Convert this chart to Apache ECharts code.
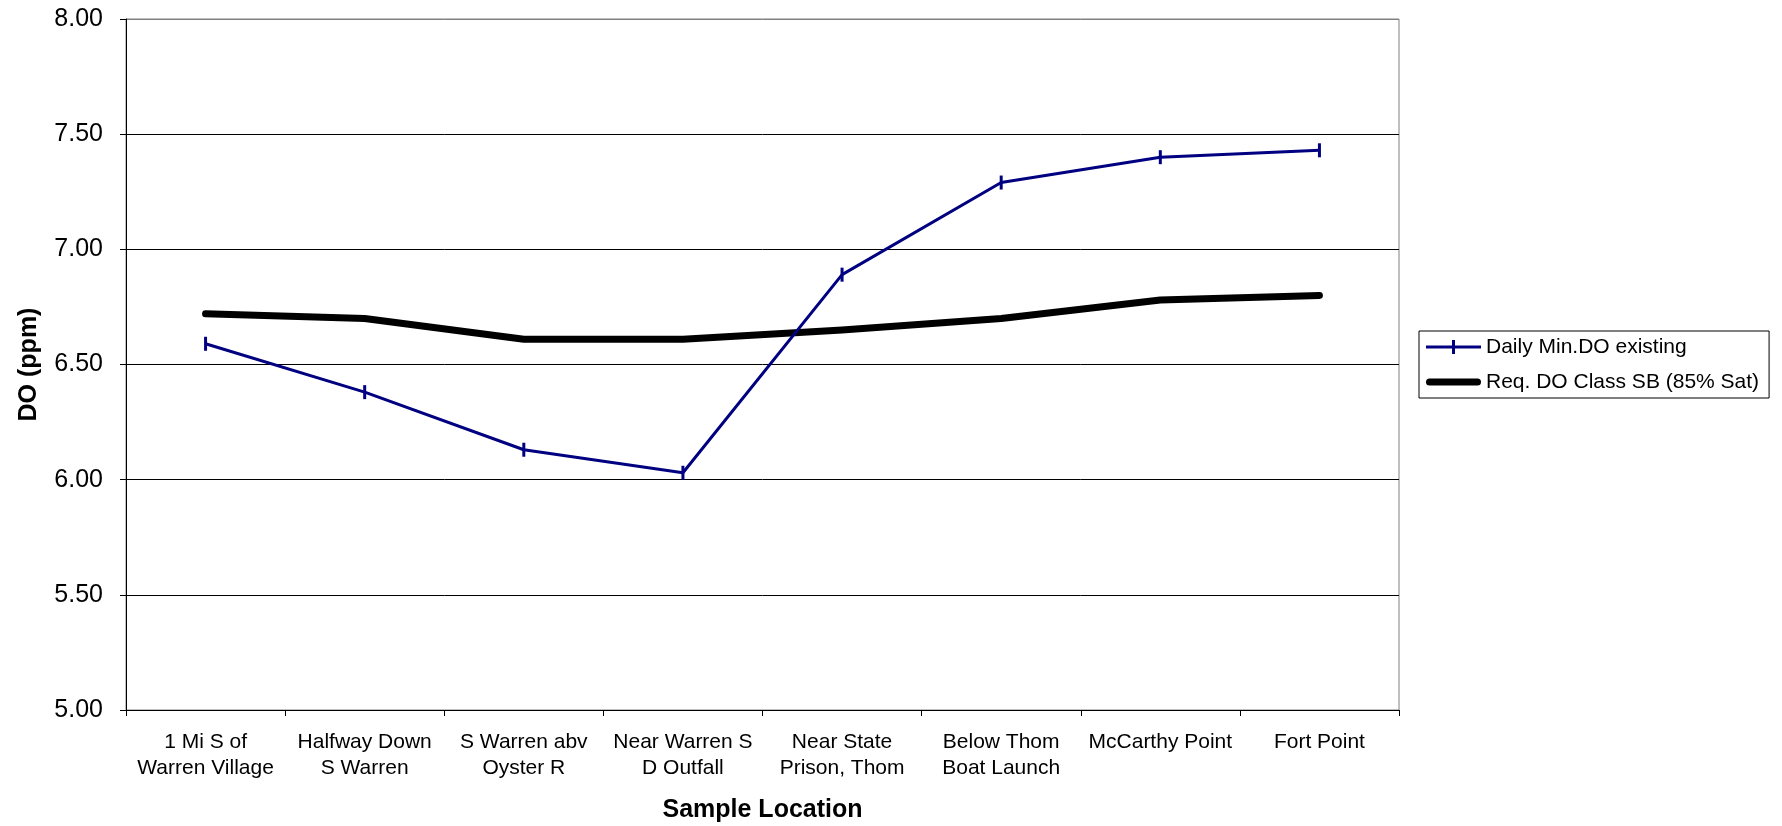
<!DOCTYPE html>
<html>
<head>
<meta charset="utf-8">
<script src="https://cdn.jsdelivr.net/npm/echarts@6/dist/echarts.min.js"></script>
<style>
  html, body { margin: 0; padding: 0; background: #fff; }
  #chart { width: 1782px; height: 826px; }
</style>
</head>
<body>
<div id="chart"></div>
<script>
// Sample locations along the river, upstream to downstream
const categories = [
  '1 Mi S of\nWarren Village',
  'Halfway Down\nS Warren',
  'S Warren abv\nOyster R',
  'Near Warren S\nD Outfall',
  'Near State\nPrison, Thom',
  'Below Thom\nBoat Launch',
  'McCarthy Point',
  'Fort Point'
];

// Dissolved oxygen, ppm
const dailyMinDO = [6.59, 6.38, 6.13, 6.03, 6.89, 7.29, 7.40, 7.43];
const requiredDO = [6.72, 6.70, 6.61, 6.61, 6.65, 6.70, 6.78, 6.80];

const seriesNames = ['Daily Min.DO existing', 'Req. DO Class SB (85% Sat)'];

// Y axis range and step
const yMin = 5;
const yMax = 8;
const yStep = 0.5;

const FONT = '"Liberation Sans", Arial, sans-serif';

// Legend keys: a thin line crossed by a tick, and a thick round-capped bar
const ICON_TICK_LINE = 'path://M0,5.5H55V8.5H0Z M26,0H29V14H26Z';
const ICON_THICK_LINE = 'path://M0,0M55,14M3.5,3.5H51.5A3.5,3.5,0,0,1,51.5,10.5H3.5A3.5,3.5,0,0,1,3.5,3.5Z';

const chart = echarts.init(document.getElementById('chart'), null, { renderer: 'canvas' });

chart.setOption({
  animation: false,
  backgroundColor: '#ffffff',
  grid: {
    left: 126,
    right: 383,
    top: 19,
    bottom: 116,
    outerBoundsMode: 'none',
    containLabel: false,
    show: true,
    borderColor: '#808080',
    borderWidth: 1,
    backgroundColor: 'transparent'
  },
  legend: {
    orient: 'vertical',
    left: 1419,
    top: 331,
    padding: [4, 10, 4, 7],
    itemGap: 11,
    itemWidth: 55,
    itemHeight: 14,
    borderColor: '#000',
    borderWidth: 1,
    backgroundColor: '#fff',
    textStyle: { fontFamily: FONT, fontSize: 21, color: '#000', lineHeight: 24 },
    data: [
      { name: seriesNames[0], icon: ICON_TICK_LINE },
      { name: seriesNames[1], icon: ICON_THICK_LINE }
    ]
  },
  xAxis: {
    type: 'category',
    data: categories,
    boundaryGap: true,
    name: 'Sample Location',
    nameLocation: 'middle',
    nameGap: 88,
    nameTextStyle: { fontFamily: FONT, fontSize: 25, fontWeight: 'bold', color: '#000', verticalAlign: 'top' },
    axisLine: { lineStyle: { color: '#000', width: 1 } },
    axisTick: { show: true, length: 6, lineStyle: { color: '#000' } },
    axisLabel: {
      interval: 0,
      margin: 19,
      fontFamily: FONT,
      fontSize: 21,
      color: '#000',
      lineHeight: 26,
      align: 'center',
      verticalAlign: 'top'
    },
    splitLine: { show: false }
  },
  yAxis: {
    type: 'value',
    min: yMin,
    max: yMax,
    interval: yStep,
    name: 'DO (ppm)',
    nameLocation: 'middle',
    nameGap: 84,
    nameRotate: 90,
    nameTextStyle: { fontFamily: FONT, fontSize: 25, fontWeight: 'bold', color: '#000' },
    axisLine: { show: true, lineStyle: { color: '#000', width: 1 } },
    axisTick: { show: true, length: 6, lineStyle: { color: '#000' } },
    axisLabel: {
      margin: 23,
      fontFamily: FONT,
      fontSize: 25,
      color: '#000',
      formatter: v => v.toFixed(2)
    },
    splitLine: {
      show: true,
      lineStyle: {
        color: ['#000', '#000', '#000', '#000', '#000', '#000', '#808080'],
        width: 1
      }
    }
  },
  series: [
    {
      name: seriesNames[0],
      type: 'line',
      data: dailyMinDO,
      z: 3,
      color: '#000080',
      lineStyle: { color: '#000080', width: 3 },
      symbol: 'rect',
      symbolSize: [3, 14],
      itemStyle: { color: '#000080', borderWidth: 0 },
      showSymbol: true
    },
    {
      name: seriesNames[1],
      type: 'line',
      data: requiredDO,
      z: 2,
      color: '#000',
      lineStyle: { color: '#000', width: 7, cap: 'round', join: 'round' },
      symbol: 'none',
      itemStyle: { color: '#000' }
    }
  ]
});
</script>
</body>
</html>
